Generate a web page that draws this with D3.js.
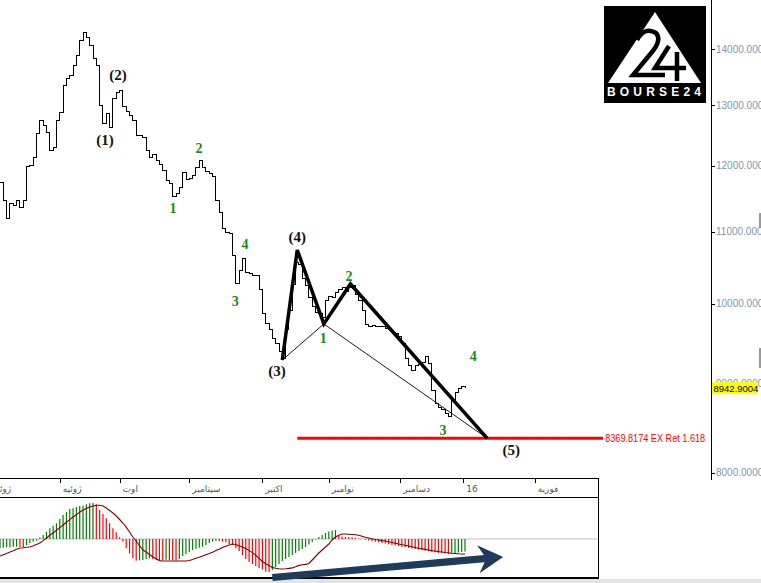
<!DOCTYPE html>
<html><head><meta charset="utf-8">
<script src="https://cdn.jsdelivr.net/npm/d3@7"></script>
<style>html,body{margin:0;padding:0;background:#fff;}svg{display:block;}</style>
</head><body><svg id="c" width="761" height="583"></svg>
<script>
// ---------- DATA ----------
const prices = [11743,11467,11198,11422,11391,11467,11361,11467,11979,12010,
12138,12528,12746,12662,12545,12250,12298,12746,12881,13349,
13473,13526,13706,13889,14167,14318,14205,14074,13834,13706,
13001,12695,12864,12628,13122,13226,13261,12984,12898,12830,
12746,12496,12480,12447,12250,12138,12186,12090,12026,11931,
11774,11728,11528,11559,11651,11899,11790,11805,11852,11963,
12090,11963,11915,11884,11837,11467,11286,11050,10992,10978,
10663,10263,10454,10621,10426,10413,10385,10372,10182,9864,
9747,9658,9556,9481,9381,9306,9658,9916,10250,10565,
10524,10344,10236,10075,9968,9890,9864,9812,10048,10101,
10075,10142,10182,10209,10155,10222,10236,10128,10048,9916,
9734,9708,9721,9696,9696,9708,9683,9658,9620,9607,
9569,9481,9306,9221,9160,9209,9233,9257,9331,9245,
8921,8758,8712,8689,8643,8620,8804,8897,8945,8957,8942.9004];

const macdHist = [-93,-87,-83,-83,-77,-77,-80,-84,-60,-43,
-27,-17,15,40,73,107,133,157,200,240,
270,300,310,320,330,333,347,357,360,347,
290,250,207,157,107,67,17,-27,-93,-143,
-193,-217,-213,-210,-200,-193,-200,-207,-210,-213,
-207,-210,-213,-215,-200,-170,-153,-133,-110,-100,
-87,-77,-60,-43,-27,-17,-20,-27,-33,-50,
-60,-93,-120,-160,-200,-230,-250,-270,-290,-305,
-327,-330,-310,-280,-250,-220,-200,-180,-160,-140,
-120,-100,-80,-55,-30,-5,20,40,60,75,
85,90,30,25,22,20,18,12,5,3,
-8,-15,-20,-27,-33,-40,-45,-52,-60,-65,
-70,-77,-83,-90,-95,-100,-107,-112,-118,-123,
-128,-133,-138,-142,-146,-150,-145,-140,-135,-130,-125];

const macdSignal = [-170,-157,-144,-130,-117,-103,-90,-87,-83,-80,
-68,-54,-40,-16,10,37,60,87,114,140,
167,194,220,244,267,290,306,320,330,338,
338,330,310,285,260,230,195,160,118,70,
20,-20,-65,-108,-130,-155,-178,-197,-216,-220,
-220,-220,-220,-220,-220,-220,-220,-215,-205,-193,
-182,-170,-157,-145,-132,-115,-102,-86,-73,-60,
-50,-55,-68,-80,-96,-116,-136,-163,-194,-225,
-247,-266,-284,-293,-298,-300,-298,-294,-289,-278,
-264,-258,-254,-245,-210,-175,-140,-110,-80,-50,
-10,20,38,50,50,48,45,42,38,28,
18,10,2,-5,-10,-16,-20,-28,-35,-42,
-50,-57,-63,-70,-78,-85,-92,-98,-104,-110,
-116,-120,-126,-130,-135,-138,-142,-145,-148,-150,-150];

const monthLabels = ["ژوئن","ژوئیه","اوت","سپتامبر","اکتبر","نوامبر","دسامبر","16","فوریه"];
const monthTickIdx = [-3, 18, 36, 57, 79, 99, 120.5, 139.5, 161];
const priceTicks = [8000, 9000, 10000, 11000, 12000, 13000, 14000];

const waveLabels = ["(1)","(2)","(3)","(4)","(5)"];
const waveLabelIdx = [31.6, 35.5, 83.4, 89.5, 153.9];
const waveLabelPrice = [12414, 13527, 9148, 10921, 8242];

const subLabels = ["1","2","3","4","1","2","3","4"];
const subLabelIdx = [52.1, 59.9, 70.8, 73.8, 97.3, 105.1, 133.4, 142.5];
const subLabelPrice = [11347, 12283, 10034, 10820, 9556, 10372, 8462, 9331];

const patternIdx = [85, 89.5, 97.5, 105.5, 146.7];
const patternPrice = [9282, 10734, 9735, 10263, 8369.8174];
const thinIdx = [0, 2, 4];

const targetPrice = 8369.8174;
const targetIdx = [89.5, 181.6];
const targetText = "8369.8174 EX Ret 1.618";
const lastPrice = 8942.9004;

const arrowFrom = {i: 82, v: -385};
const arrowTo = {i: 151.5, v: -180};

// ---------- SCALES ----------
const svg = d3.select("#c");
const x = d3.scaleLinear().domain([0, 140]).range([0, 465]);
const y = d3.scaleLog().domain([8000, 14000]).range([472.5, 49]);
const ym = d3.scaleLinear().domain([-390, 410]).range([578, 498]);

svg.append("rect").attr("width", 761).attr("height", 583).attr("fill", "#fff");

// ---------- LOGO ----------
const logo = svg.append("g");
logo.append("rect").attr("x", 604).attr("y", 6).attr("width", 102).attr("height", 97).attr("fill", "#000");
logo.append("path").attr("d", "M655,12 L701,83 L608,83 Z").attr("fill", "#fff");
logo.append("path").attr("d", "M637,40 Q645,26 656,33 Q662,40 652,52 L633,75 L665,75")
  .attr("fill", "none").attr("stroke", "#000").attr("stroke-width", 4.5).attr("stroke-linejoin", "miter");
logo.append("path").attr("d", "M669,46 L655,68 L686,68 M677,52 L677,81")
  .attr("fill", "none").attr("stroke", "#000").attr("stroke-width", 4.5);
logo.append("text").attr("x", 607).attr("y", 96).attr("fill", "#fff")
  .attr("font-family", "Liberation Sans, Arial, sans-serif").attr("font-size", 12).attr("font-weight", "bold")
  .attr("textLength", 94).attr("lengthAdjust", "spacing").text("BOURSE24");

// ---------- MAIN PANEL ----------
const main = svg.append("g");
main.append("clipPath").attr("id", "mclip").append("rect").attr("x", 0).attr("y", 0).attr("width", 711).attr("height", 478);

// price line
main.append("path").datum(prices).attr("clip-path", "url(#mclip)")
  .attr("d", d3.line().x((d, i) => x(i)).y(d => y(d)).curve(d3.curveStepAfter))
  .attr("fill", "none").attr("stroke", "#000").attr("stroke-width", 1).attr("shape-rendering", "crispEdges");

// red target line
main.append("line").attr("x1", x(targetIdx[0])).attr("x2", x(targetIdx[1]))
  .attr("y1", y(targetPrice)).attr("y2", y(targetPrice))
  .attr("stroke", "#ff0000").attr("stroke-width", 3);
main.append("text").attr("x", x(targetIdx[1]) + 2).attr("y", y(targetPrice)).attr("dy", "0.35em")
  .attr("fill", "#ff0000").attr("font-family", "Liberation Sans, Arial, sans-serif").attr("font-size", 10)
  .attr("textLength", 100).attr("lengthAdjust", "spacingAndGlyphs").text(targetText);

// thin pattern line
const pline = d3.line().x(d => x(d[0])).y(d => y(d[1]));
main.append("path").datum(thinIdx.map(k => [patternIdx[k], patternPrice[k]]))
  .attr("d", pline).attr("fill", "none").attr("stroke", "#000").attr("stroke-width", 0.9);
// thick pattern line
main.append("path").datum(patternIdx.map((d, k) => [d, patternPrice[k]]))
  .attr("d", pline).attr("fill", "none").attr("stroke", "#000").attr("stroke-width", 3.5)
  .attr("stroke-linejoin", "miter");

// wave labels
main.selectAll(".wl").data(waveLabels).enter().append("text")
  .attr("x", (d, k) => x(waveLabelIdx[k])).attr("y", (d, k) => y(waveLabelPrice[k]))
  .attr("text-anchor", "middle").attr("dy", "0.35em")
  .attr("font-family", "Liberation Serif, Times New Roman, serif").attr("font-weight", "bold").attr("font-size", 15)
  .attr("fill", "#111").text(d => d);
main.selectAll(".sl").data(subLabels).enter().append("text")
  .attr("x", (d, k) => x(subLabelIdx[k])).attr("y", (d, k) => y(subLabelPrice[k]))
  .attr("text-anchor", "middle").attr("dy", "0.35em")
  .attr("font-family", "Liberation Serif, Times New Roman, serif").attr("font-weight", "bold").attr("font-size", 14)
  .attr("fill", "#1a8a1a").text(d => d);

// right price axis
main.append("line").attr("x1", 711.5).attr("x2", 711.5).attr("y1", 0).attr("y2", 480).attr("stroke", "#000");
const pt = main.selectAll(".pt").data(priceTicks).enter().append("g");
pt.append("line").attr("x1", 711).attr("x2", 715).attr("y1", d => Math.round(y(d)) + 0.5).attr("y2", d => Math.round(y(d)) + 0.5)
  .attr("stroke", "#000");
pt.append("text").attr("x", 716).attr("y", d => y(d)).attr("dy", "0.35em")
  .attr("font-family", "Liberation Sans, Arial, sans-serif").attr("font-size", 10).attr("fill", "#8294ab")
  .text(d => d3.format(".4f")(d));
// last price box
main.append("rect").attr("x", 712).attr("y", y(lastPrice) - 6).attr("width", 46).attr("height", 12).attr("fill", "#ffff00");
main.append("text").attr("x", 713.5).attr("y", y(lastPrice)).attr("dy", "0.35em")
  .attr("font-family", "Liberation Sans, Arial, sans-serif").attr("font-size", 9.5).attr("fill", "#000")
  .text(d3.format(".4f")(lastPrice));
// scroll marks at far right
main.append("rect").attr("x", 759).attr("y", 213).attr("width", 2).attr("height", 15).attr("fill", "#999");
main.append("rect").attr("x", 759).attr("y", 348).attr("width", 2).attr("height", 20).attr("fill", "#999");

// ---------- TIME AXIS ----------
const ax = svg.append("g");
ax.append("line").attr("x1", 0).attr("x2", 598).attr("y1", 478.5).attr("y2", 478.5).attr("stroke", "#000");
const mt = ax.selectAll(".mt").data(monthLabels).enter().append("g");
mt.append("line").attr("x1", (d, k) => Math.round(x(monthTickIdx[k])) + 0.5).attr("x2", (d, k) => Math.round(x(monthTickIdx[k])) + 0.5)
  .attr("y1", 478).attr("y2", 483).attr("stroke", "#000");
mt.append("text").attr("x", (d, k) => x(monthTickIdx[k]) + 3).attr("y", 492)
  .attr("font-family", "DejaVu Sans, sans-serif").attr("font-size", 9).attr("fill", "#555")
  .attr("direction", "ltr").attr("text-anchor", "start").text(d => d);

// ---------- INDICATOR ----------
const ind = svg.append("g");
ind.append("rect").attr("x", 0).attr("y", 579).attr("width", 761).attr("height", 4).attr("fill", "#e4e4e4");
ind.append("line").attr("x1", 0).attr("x2", 598).attr("y1", ym(0)).attr("y2", ym(0)).attr("stroke", "#c0c0c0");
ind.selectAll(".hb").data(macdHist).enter().append("line")
  .attr("x1", (d, i) => x(i)).attr("x2", (d, i) => x(i))
  .attr("y1", ym(0)).attr("y2", d => ym(d))
  .attr("stroke", (d, i) => (i === 0 || d >= macdHist[i - 1]) ? "#008000" : "#ff0000")
  .attr("stroke-width", 1.2);
ind.append("path").datum(macdSignal)
  .attr("d", d3.line().x((d, i) => x(i)).y(d => ym(d)))
  .attr("fill", "none").attr("stroke", "#800000").attr("stroke-width", 1.1);
ind.append("line").attr("x1", 0).attr("x2", 598).attr("y1", 497.5).attr("y2", 497.5).attr("stroke", "#000");
ind.append("line").attr("x1", 598.5).attr("x2", 598.5).attr("y1", 478).attr("y2", 579).attr("stroke", "#000");
ind.append("line").attr("x1", 0).attr("x2", 599).attr("y1", 578).attr("y2", 578).attr("stroke", "#000").attr("stroke-width", 2);

// arrow
(function () {
  const x0 = x(arrowFrom.i), y0 = ym(arrowFrom.v), x1 = x(arrowTo.i), y1 = ym(arrowTo.v);
  const len = Math.hypot(x1 - x0, y1 - y0);
  const dx = (x1 - x0) / len, dy = (y1 - y0) / len, nx = -dy, ny = dx;
  const hw = 3.6, L = 25, HW = 14, notch = 6;
  const bx = x1 - L * dx, by = y1 - L * dy;
  const nxp = bx + notch * dx, nyp = by + notch * dy;
  const pts = [
    [x0 + nx * hw, y0 + ny * hw], [nxp + nx * hw, nyp + ny * hw], [bx + nx * HW, by + ny * HW], [x1, y1],
    [bx - nx * HW, by - ny * HW], [nxp - nx * hw, nyp - ny * hw], [x0 - nx * hw, y0 - ny * hw]
  ];
  ind.append("polygon").attr("points", pts.map(p => p.join(",")).join(" ")).attr("fill", "#1e3a5c");
})();
</script></body></html>
